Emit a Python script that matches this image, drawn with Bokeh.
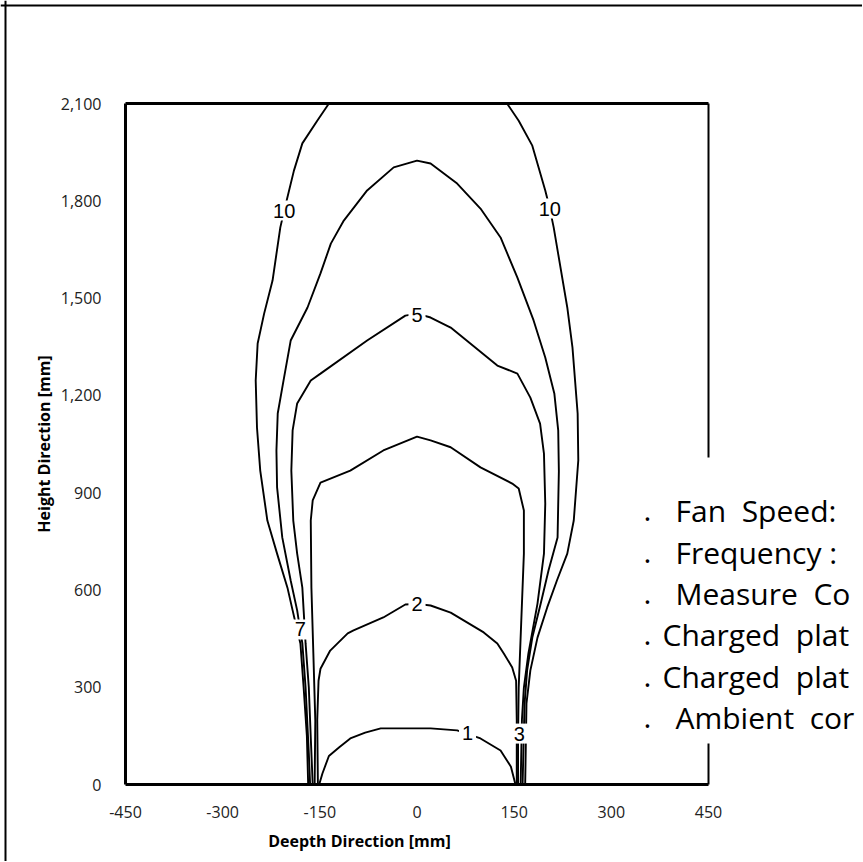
from bokeh.plotting import figure
from bokeh.models import Range1d, FixedTicker, Label, Span, Arrow, ColumnDataSource, LinearAxis
from bokeh.core.properties import value
from bokeh.embed import file_html
from bokeh.resources import INLINE

# ---------------- data ----------------
x_ticks = [-450, -300, -150, 0, 150, 300, 450]
x_tick_labels = ["-450", "-300", "-150", "0", "150", "300", "450"]
y_ticks = [0, 300, 600, 900, 1200, 1500, 1800, 2100]
y_tick_labels = ["0", "300", "600", "900", "1,200", "1,500", "1,800", "2,100"]

level_1_x = [-151, -146, -136, -120, -103, -80, -56, 21, 62, 98, 129, 145, 152]
level_1_y = [0, 34, 88, 115, 142, 160, 173, 173, 167, 142, 105, 55, 0]

level_2_x = [-153, -154, -152, -149, -134, -107, -98, -52, -18, 0, 21, 52, 103, 124, 134, 147, 153, 154, 154]
level_2_y = [0, 200, 320, 357, 413, 466, 475, 515, 555, 557, 552, 530, 469, 435, 404, 361, 320, 200, 0]

level_3_x = [-158, -157, -160, -163, -164, -161, -149, -103, -52, 0, 21, 52, 98, 147, 157, 165, 165, 161, 157, 156, 156]
level_3_y = [0, 197, 404, 607, 814, 876, 931, 968, 1030, 1073, 1061, 1040, 978, 928, 913, 845, 712, 506, 299, 150, 0]

level_5_x = [-161, -164, -167, -172, -175, -177, -185, -191, -194, -192, -185, -164, -149, -77, -18, 0,
             21, 52, 124, 155, 175, 190, 196, 198, 196, 186, 172, 165, 162, 160]
level_5_y = [0, 145, 299, 435, 537, 607, 712, 814, 968, 1092, 1175, 1246, 1267, 1369, 1446, 1452,
             1440, 1409, 1292, 1267, 1193, 1113, 1020, 866, 712, 558, 404, 299, 200, 0]

level_7_x = [-165, -167, -172, -177, -181, -185, -195, -208, -216, -217, -215, -206, -195, -169, -149, -133,
             -113, -77, -36, 0, 21, 62, 98, 129, 155, 180, 198, 212, 218, 219, 217, 203, 191, 178, 170, 166, 163]
level_7_y = [0, 96, 299, 435, 485, 537, 629, 762, 916, 1030, 1144, 1246, 1369, 1471, 1576, 1668,
             1739, 1832, 1903, 1924, 1915, 1853, 1776, 1687, 1563, 1431, 1317, 1206, 1092, 966, 762, 660, 558, 453, 352, 247, 0]

level_10_left_x = [-168, -170, -175, -180, -186, -192, -200, -216, -231, -242, -247, -249, -246, -236, -223,
                   -211, -205, -190, -177, -154, -136]
level_10_left_y = [0, 150, 299, 435, 485, 537, 607, 712, 814, 968, 1100, 1246, 1360, 1452, 1554,
                   1718, 1770, 1893, 1977, 2047, 2100]
level_10_right_x = [139, 157, 178, 198, 205, 211, 232, 240, 248, 249, 242, 232, 216, 201, 186, 175, 169, 167]
level_10_right_y = [2100, 2047, 1970, 1832, 1776, 1718, 1471, 1348, 1144, 1000, 814, 712, 629, 546, 453, 352, 250, 0]

contour_label_text = ["10", "10", "7", "5", "3", "2", "1"]
contour_label_x = [-205, 205, -180, 0, 158, 0, 78]
contour_label_y = [1770, 1776, 478, 1448, 157, 557, 160]

NB = "\u00a0"
note_dots = [".", ".", ".", ".", ".", "."]
note_lines = ["Fan" + NB + " Speed:", "Frequency :", "Measure" + NB + " Co",
              "Charged" + NB + " plat", "Charged" + NB + " plat", "Ambient" + NB + " cor"]

# ---------------- layout: the frame covers the whole canvas ----------------
W, H = 862, 861
FX0, FX1, FY0, FY1 = 125, 708, 103, 784          # pixel box of the data area
SX = (FX1 - FX0) / 900.0
SY = (FY1 - FY0) / 2100.0
x_min = -450 - FX0 / SX
x_max = -450 + (W - FX0) / SX
y_max = 2100 + FY0 / SY
y_min = 0 - (H - FY1) / SY


def px_x(px):
    return x_min + px / SX


def px_y(py):
    return y_max - py / SY


p = figure(width=W, height=H, output_backend="svg", toolbar_location=None,
           x_range=Range1d(x_min, x_max), y_range=Range1d(y_min, y_max),
           x_axis_location=None, y_axis_location=None, min_border=0,
           background_fill_color="white", border_fill_color="white")
p.outline_line_color = None
p.grid.visible = False

xaxis = LinearAxis(fixed_location=0, bounds=(-450, 450), ticker=FixedTicker(ticks=x_ticks))
xaxis.major_label_overrides = {t: s for t, s in zip(x_ticks, x_tick_labels)}
xaxis.major_label_standoff = 21
yaxis = LinearAxis(fixed_location=-450, bounds=(0, 2100), ticker=FixedTicker(ticks=y_ticks))
yaxis.major_label_overrides = {t: s for t, s in zip(y_ticks, y_tick_labels)}
yaxis.major_label_standoff = 24
yaxis.axis_label = "Height Direction [mm]"
yaxis.axis_label_text_font = "Open Sans"
yaxis.axis_label_text_font_style = "bold"
yaxis.axis_label_text_font_size = "16px"
yaxis.axis_label_text_color = "black"
yaxis.axis_label_standoff = 3

for ax in (xaxis, yaxis):
    ax.major_tick_line_color = None
    ax.minor_tick_line_color = None
    ax.major_tick_in = 0
    ax.major_tick_out = 0
    ax.axis_line_color = "black"
    ax.axis_line_width = 3
    ax.major_label_text_font = "Open Sans"
    ax.major_label_text_font_size = "16px"
    ax.major_label_text_color = "#222222"

p.add_layout(xaxis, "below")
p.add_layout(yaxis, "left")

# outer frame (left and top edges) of the original picture
p.add_layout(Span(location=px_x(5), dimension="height", line_color="black", line_width=2))
p.add_layout(Span(location=px_y(5), dimension="width", line_color="black", line_width=2))

# plot frame: top edge and interrupted right edge
p.add_layout(Arrow(start=None, end=None, x_start=-450, y_start=2100, x_end=450, y_end=2100,
                   line_color="black", line_width=3))
p.add_layout(Arrow(start=None, end=None, x_start=450, y_start=2100, x_end=450, y_end=px_y(457),
                   line_color="black", line_width=2))
p.add_layout(Arrow(start=None, end=None, x_start=450, y_start=px_y(743), x_end=450, y_end=0,
                   line_color="black", line_width=2))

# contour lines
xs = [level_1_x, level_2_x, level_3_x, level_5_x, level_7_x, level_10_left_x, level_10_right_x]
ys = [level_1_y, level_2_y, level_3_y, level_5_y, level_7_y, level_10_left_y, level_10_right_y]
p.multi_line(xs=xs, ys=ys, line_color="black", line_width=1.9)

lab_src = ColumnDataSource(dict(x=contour_label_x, y=contour_label_y, text=contour_label_text))
p.text(x="x", y="y", text="text", source=lab_src, text_align="center", text_baseline="middle",
       text_font=value("Liberation Sans"), text_font_size="20px", text_color="black",
       background_fill_color="white", padding=3)

# x axis title (offset to the left as in the reference)
p.add_layout(Label(x=px_x(359), y=px_y(840), text="Deepth Direction [mm]", text_align="center",
                   text_baseline="middle", text_font="Open Sans", text_font_style="bold",
                   text_font_size="16px", text_color="black"))

# note text block
note_base = [510, 551.5, 593, 634, 675.5, 717]
for i, (d, t) in enumerate(zip(note_dots, note_lines)):
    p.add_layout(Label(x=px_x(643), y=px_y(note_base[i]), text=d, text_align="left",
                       text_baseline="alphabetic", text_font="Open Sans", text_font_size="30px",
                       text_color="black"))
    tx = 662 if t.startswith("Charged") else 675
    p.add_layout(Label(x=px_x(tx), y=px_y(note_base[i]), text=t, text_align="left",
                       text_baseline="alphabetic", text_font="Open Sans", text_font_size="30px",
                       text_color="black"))

open("out.html", "w").write(file_html(p, INLINE))
